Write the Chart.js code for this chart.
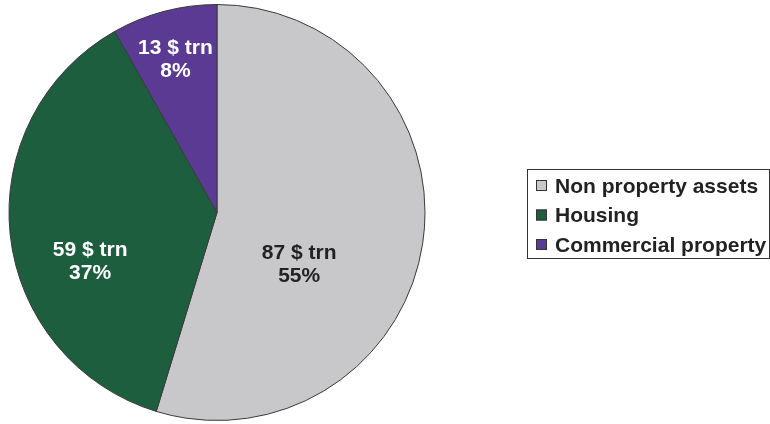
<!DOCTYPE html>
<html>
<head>
<meta charset="utf-8">
<script src="https://cdn.jsdelivr.net/npm/chart.js@4.4.0/dist/chart.umd.min.js"></script>
<style>
  html, body { margin: 0; padding: 0; background: #fff; }
  #wrap { width: 770px; height: 424px; position: relative; }
</style>
</head>
<body>
<div id="wrap"><canvas id="pieChart" width="770" height="424"></canvas></div>
<script>
// data
const categories = ['Non property assets', 'Housing', 'Commercial property'];
const values = [87, 59, 13];            // $ trn
const percents = ['55%', '37%', '8%'];
const colors = ['#c8c8ca', '#1d5e3f', '#5b3a94'];
const labelColors = ['#222222', '#ffffff', '#ffffff'];
// label spot relative to centre, in radius units (x, y)
const labelSpots = [[0.395, 0.25], [-0.61, 0.235], [-0.2, -0.737]];

// slice labels
const sliceLabels = {
    id: 'sliceLabels',
    afterDatasetsDraw(chart) {
        const ctx = chart.ctx;
        const arc = chart.getDatasetMeta(0).data[0];
        ctx.save();
        ctx.font = 'bold 21px "Liberation Sans", Arial, sans-serif';
        ctx.textAlign = 'center';
        ctx.textBaseline = 'middle';
        values.forEach((v, i) => {
            const x = arc.x + labelSpots[i][0] * arc.outerRadius;
            const y = arc.y + labelSpots[i][1] * arc.outerRadius;
            ctx.fillStyle = labelColors[i];
            ctx.fillText(v + ' $ trn', x, y - 11);
            ctx.fillText(percents[i], x, y + 12);
        });
        ctx.restore();
    }
};

// boxed legend on the right
const boxLegend = {
    id: 'boxLegend',
    afterDraw(chart) {
        const ctx = chart.ctx;
        const left = 527, top = 169, w = 242, h = 89, row = 29.5;
        ctx.save();
        ctx.strokeStyle = '#333';
        ctx.lineWidth = 1;
        ctx.strokeRect(left + 0.5, top + 0.5, w, h);
        ctx.font = 'bold 21px "Liberation Sans", Arial, sans-serif';
        ctx.textBaseline = 'middle';
        ctx.textAlign = 'left';
        categories.forEach((c, i) => {
            const cy = top + 17 + i * row;
            ctx.fillStyle = colors[i];
            ctx.fillRect(536, cy - 6, 11, 11);
            ctx.strokeStyle = '#333';
            ctx.strokeRect(536.5, cy - 5.5, 10, 10);
            ctx.fillStyle = '#222';
            ctx.fillText(c, 555, cy + 1);
        });
        ctx.restore();
    }
};

const ctx = document.getElementById('pieChart').getContext('2d');
new Chart(ctx, {
    type: 'pie',
    data: {
        labels: categories,
        datasets: [{
            data: values,
            backgroundColor: colors,
            borderColor: '#3a3a3a',
            borderWidth: 1
        }]
    },
    options: {
        responsive: false,
        animation: false,
        layout: { padding: { left: 8, top: 4, bottom: 3, right: 344 } },
        plugins: {
            legend: { display: false },
            tooltip: { enabled: false }
        }
    },
    plugins: [sliceLabels, boxLegend]
});
</script>
</body>
</html>
